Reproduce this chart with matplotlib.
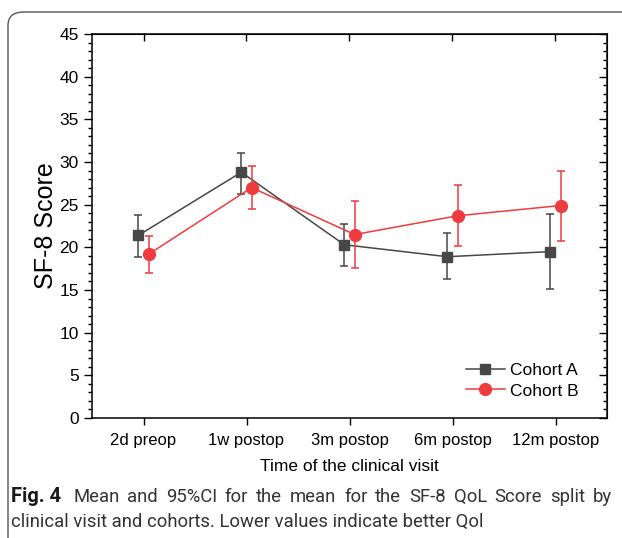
import matplotlib
matplotlib.use('Agg')
import matplotlib.pyplot as plt
import numpy as np
from matplotlib.patches import FancyBboxPatch
from matplotlib.lines import Line2D
import matplotlib.ticker as ticker

visits = ['2d preop', '1w postop', '3m postop', '6m postop', '12m postop']

mean_a = [21.4, 28.8, 20.3, 18.9, 19.5]
lo_a = [18.9, 26.3, 17.8, 16.3, 15.1]
hi_a = [23.8, 31.1, 22.7, 21.7, 23.9]

mean_b = [19.2, 27.0, 21.5, 23.7, 24.9]
lo_b = [17.0, 24.5, 17.6, 20.1, 20.7]
hi_b = [21.3, 29.5, 25.4, 27.3, 29.0]

col_a = '#474747'
col_b = '#ef3b3d'

caption_1 = 'Mean and 95%CI for the mean for the SF-8 QoL Score split by'
caption_2 = 'clinical visit and cohorts. Lower values indicate better Qol'

plt.rcParams['font.family'] = ['Liberation Sans', 'DejaVu Sans']

fig = plt.figure(figsize=(6.22, 5.38), dpi=100)
ax = fig.add_axes([92/622, 1-418/538, (607-92)/622, (418-34)/538])

x = np.arange(1, len(visits)+1)
ma = np.array(mean_a); mb = np.array(mean_b)
err_a = [ma - np.array(lo_a), np.array(hi_a) - ma]
err_b = [mb - np.array(lo_b), np.array(hi_b) - mb]

ax.errorbar(x - 0.05, ma, yerr=err_a, color=col_a, ecolor=col_a, marker='s',
            markersize=7.5, linewidth=1.1, elinewidth=1.1, capsize=3, capthick=1.1,
            zorder=3)
ax.errorbar(x + 0.05, mb, yerr=err_b, color=col_b, ecolor=col_b, marker='o',
            markersize=8.5, linewidth=1.1, elinewidth=1.1, capsize=3, capthick=1.1,
            zorder=4)

ax.set_xlim(0.5, 5.5)
ax.set_ylim(0, 45)
ax.set_xticks(x)
ax.set_xticklabels(visits, fontsize=12)
ax.yaxis.set_major_locator(ticker.MultipleLocator(5))
ax.yaxis.set_minor_locator(ticker.MultipleLocator(1))
ax.tick_params(axis='y', which='major', direction='out', length=6, width=1, labelsize=12.5)
ax.tick_params(axis='y', which='minor', direction='out', length=3, width=1)
ax.tick_params(axis='x', which='major', direction='out', length=5, width=1, pad=6)
for s in ax.spines.values():
    s.set_linewidth(1.1)

# mirrored ticks on top and right, pointing inward
sec_x = ax.secondary_xaxis('top')
sec_x.set_xticks(x)
sec_x.xaxis.set_minor_locator(ticker.NullLocator())
sec_x.set_xticklabels([])
sec_x.tick_params(direction='in', length=5, width=1)
sec_y = ax.secondary_yaxis('right')
sec_y.yaxis.set_major_locator(ticker.MultipleLocator(5))
sec_y.yaxis.set_minor_locator(ticker.MultipleLocator(1))
sec_y.yaxis.set_major_formatter(ticker.NullFormatter())
sec_y.tick_params(which='major', direction='in', length=6, width=1)
sec_y.tick_params(which='minor', direction='in', length=3, width=1)

ax.set_ylabel('SF-8 Score', fontsize=18, labelpad=1)
ax.set_xlabel('Time of the clinical visit', fontsize=12.5, labelpad=8)

handles = [Line2D([], [], color=col_a, marker='s', markersize=7.5, linewidth=1.1),
           Line2D([], [], color=col_b, marker='o', markersize=8.5, linewidth=1.1)]
ax.legend(handles, ['Cohort A', 'Cohort B'], loc='lower right', frameon=False,
          fontsize=12.5, handlelength=2.25, handletextpad=0.3, labelspacing=0.3,
          bbox_to_anchor=(0.975, 0.01))

# rounded frame around the figure
frame = FancyBboxPatch((8/622, -0.2), 1.2, 1 - 12/538 + 0.2,
                       boxstyle='round,pad=0,rounding_size=0.025',
                       transform=fig.transFigure, facecolor='none',
                       edgecolor='#555555', linewidth=1.0, clip_on=False)
fig.patches.append(frame)

# caption, first line justified to the frame width
cap_font = ['Roboto', 'DejaVu Sans']
cap_size = 13.3
r = fig.canvas.get_renderer()
left, right = 11, 612
words = [fig.text(0, 1-502/538, 'Fig. 4', fontsize=14.5, fontweight='bold',
                  family=cap_font, color='#1a1a1a', va='baseline')]
for w in caption_1.split():
    words.append(fig.text(0, 1-502/538, w, fontsize=cap_size, family=cap_font,
                          color='#333333', va='baseline'))
widths = [t.get_window_extent(r).width for t in words]
first_gap = 12
gap = (right - left - sum(widths) - first_gap) / (len(words) - 2)
pos = left
for i, t in enumerate(words):
    t.set_x(pos / 622)
    pos += widths[i] + (first_gap if i == 0 else gap)
fig.text(left/622, 1-527/538, caption_2, fontsize=cap_size, family=cap_font,
         color='#333333', va='baseline')

fig.savefig('out.png', dpi=100)
